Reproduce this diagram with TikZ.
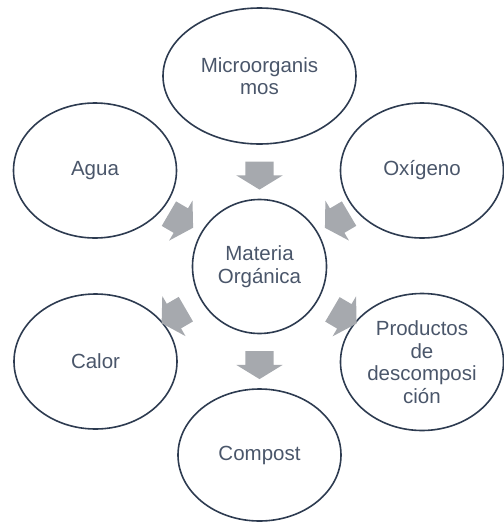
\documentclass[tikz,border=0pt]{standalone}
\usepackage{fontspec}
\setmainfont{Liberation Sans}
\usetikzlibrary{shapes.geometric,shapes.arrows}
\definecolor{borde}{RGB}{45,59,80}
\definecolor{texto}{RGB}{74,86,106}
\definecolor{flechagris}{RGB}{166,169,174}
\begin{document}
\begin{tikzpicture}[x=1pt,y=-1pt,
  elipse/.style={ellipse, draw=borde, line width=1.6pt, text=texto, inner sep=0pt,
    align=center, font=\fontsize{20.5}{22.5}\selectfont},
  flecha/.style={single arrow, fill=flechagris, draw=none, inner xsep=0pt, inner ysep=14pt,
    minimum height=28pt, single arrow head extend=9pt,
    single arrow tip angle=117, sloped, allow upside down}]
\useasboundingbox (0,0) rectangle (504,523);
\node[elipse, minimum width=193pt, minimum height=136pt] (micro) at (259.5,76){Microorganis\\mos};
\node[elipse, minimum width=163pt, minimum height=135pt] (agua) at (95,170.5){Agua};
\node[elipse, minimum width=163pt, minimum height=135pt] (oxi) at (422,170.5){Oxígeno};
\node[elipse, minimum width=134pt, minimum height=134pt] (mat) at (259.5,266.5){Materia\\Orgánica};
\node[elipse, minimum width=163pt, minimum height=135pt] (calor) at (95.5,361.5){Calor};
\node[elipse, minimum width=163pt, minimum height=137pt] (prod) at (422,362){Productos\\de\\descomposi\\ción};
\node[elipse, minimum width=163pt, minimum height=132pt] (comp) at (259.5,455){Compost};
\path (micro.center) -- node[flecha]{} (mat.center);
\path (agua.center) -- node[flecha]{} (mat.center);
\path (oxi.center) -- node[flecha]{} (mat.center);
\path (mat.center) -- node[flecha]{} (calor.center);
\path (mat.center) -- node[flecha]{} (prod.center);
\path (mat.center) -- node[flecha]{} (comp.center);
\end{tikzpicture}
\end{document}
